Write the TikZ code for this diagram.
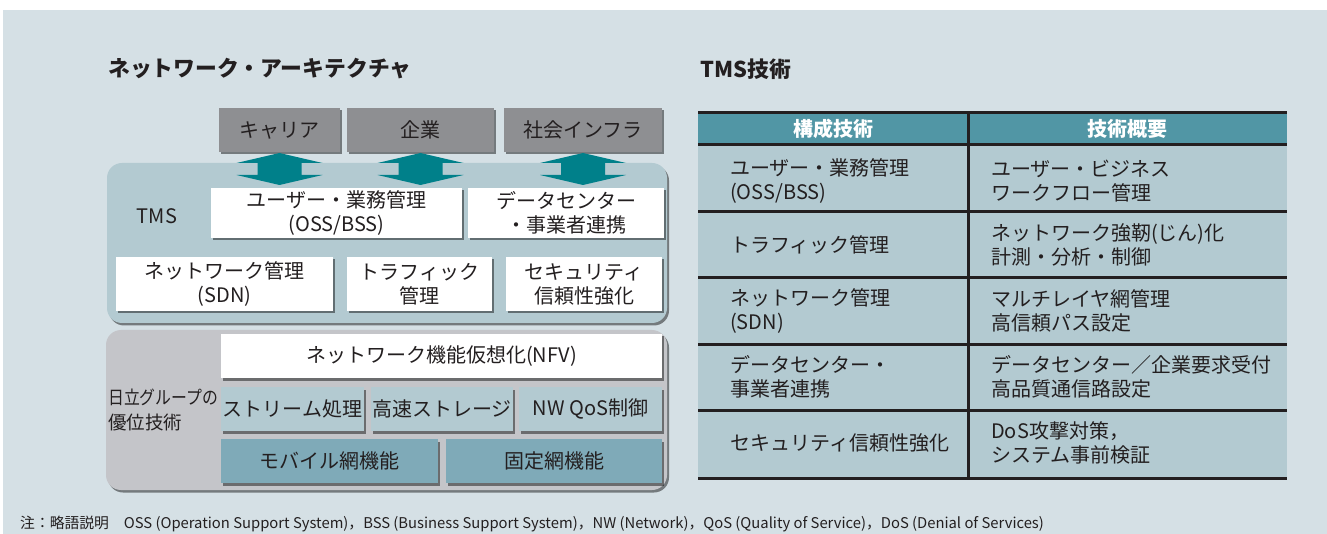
\documentclass[tikz,border=0pt]{standalone}
\usepackage{fontspec}
\setmainfont{Noto Sans CJK JP}
\usetikzlibrary{shadows}
\definecolor{bgc}{HTML}{D5E0E5}
\definecolor{topgray}{HTML}{8E8F92}
\definecolor{tmsc}{HTML}{B3CAD1}
\definecolor{arrowc}{HTML}{00808A}
\definecolor{lowc}{HTML}{C4C5C9}
\definecolor{mobc}{HTML}{7FAAB8}
\definecolor{headc}{HTML}{5196A5}
\definecolor{txtc}{HTML}{231F20}
\tikzset{
  shad/.style={drop shadow={shadow xshift=2pt,shadow yshift=-2.5pt,fill=black,opacity=0.45}},
  boxbase/.style={shad,inner sep=0pt,outer sep=0pt,align=center,text=txtc,
    font=\fontsize{20}{24}\selectfont},
  topbox/.style={boxbase,fill=topgray,minimum height=44pt},
  wbox/.style={boxbase,fill=white},
  sbox/.style={boxbase,fill=tmsc,minimum height=44pt},
  mbox/.style={boxbase,fill=mobc,minimum height=44pt},
  panel/.style={shad,rounded corners=15pt},
  celltext/.style={anchor=west,align=left,inner sep=0pt,text=txtc,font=\fontsize{20}{24.5}\selectfont},
  headtext/.style={inner sep=0pt,text=white,font=\bfseries\fontsize{20}{24}\selectfont},
  titletext/.style={anchor=west,inner sep=0pt,text=txtc,font=\bfseries\fontsize{21.8}{24}\selectfont},
  tline/.style={line width=3pt,draw=txtc},
  dbl/.pic={\fill[arrowc] (0,-16) -- (43,-6) -- (22,-6) -- (22,6) -- (43,6) -- (0,16)
     -- (-43,6) -- (-22,6) -- (-22,-6) -- (-43,-6) -- cycle;}
}
\begin{document}
\begin{tikzpicture}[x=1pt,y=-1pt]
\useasboundingbox (0,0) rectangle (1327,534);
\fill[white] (0,0) rectangle (1327,534);
\fill[bgc] (3,10) rectangle (1327,534);
% titles
\node[titletext] (t1) at (108,69) {ネットワーク・アーキテクチャ};
\node[titletext] (t2) at (700,69) {TMS技術};
% panels
\path[panel,fill=tmsc] (107,163) rectangle (667,323);
\path[panel,fill=lowc] (106,330) rectangle (667,490);
% top boxes
\node[topbox,minimum width=121pt] (car) at (279.5,130) {キャリア};
\node[topbox,minimum width=147pt] (ent) at (420.5,130) {企業};
\node[topbox,minimum width=158pt] (inf) at (583,130) {社会インフラ};
% TMS
\node[inner sep=0pt,text=txtc,font=\fontsize{20}{24}\selectfont] (tms) at (157,216) {TMS};
\node[wbox,minimum width=251pt,minimum height=50pt] (oss) at (336.5,213) {ユーザー・業務管理\\(OSS/BSS)};
\node[wbox,minimum width=196pt,minimum height=50pt] (dc) at (566,213) {データセンター\\・事業者連携};
\node[wbox,minimum width=217pt,minimum height=54pt] (sdn) at (224.5,284) {ネットワーク管理\\(SDN)};
\node[wbox,minimum width=145pt,minimum height=54pt] (trf) at (419.5,284) {トラフィック\\管理};
\node[wbox,minimum width=156pt,minimum height=54pt] (sec) at (584,284) {セキュリティ\\信頼性強化};
% arrows
\path (car.south) ++(0,17) pic {dbl};
\path (ent.south) ++(0,17) pic {dbl};
\path (inf.south) ++(0,17) pic {dbl};
% lower
\node[anchor=west,align=left,inner sep=0pt,text=txtc,font=\fontsize{18.5}{24.5}\selectfont] (hit) at (108,410) {\resizebox{110pt}{\height}{日立グループの}\\優位技術};
\node[wbox,minimum width=441pt,minimum height=44pt] (nfv) at (441.5,356) {ネットワーク機能仮想化(NFV)};
\node[sbox,minimum width=143pt] (str) at (292.5,409) {ストリーム処理};
\node[sbox,minimum width=142pt] (sto) at (442,409) {高速ストレージ};
\node[sbox,minimum width=143pt] (qos) at (590.5,409) {NW QoS制御};
\node[mbox,minimum width=217pt] (mob) at (329.5,461) {モバイル網機能};
\node[mbox,minimum width=216pt] (fix) at (554,461) {固定網機能};
% table
\fill[headc] (698,113) rectangle (1287,145);
\fill[tmsc] (698,145) rectangle (1287,478);
\draw[tline] (698,113) -- (1287,113);
\draw[tline] (698,145) -- (1287,145);
\draw[tline] (698,212) -- (1287,212);
\draw[tline] (698,278) -- (1287,278);
\draw[tline] (698,344) -- (1287,344);
\draw[tline] (698,410) -- (1287,410);
\draw[tline] (698,478) -- (1287,478);
\draw[tline] (968,111.5) -- (968,479.5);
\node[headtext] (h1) at (833,129) {構成技術};
\node[headtext] (h2) at (1127,129) {技術概要};
\node[celltext] (a1) at (730,181) {ユーザー・業務管理\\(OSS/BSS)};
\node[celltext] (b1) at (991,181) {ユーザー・ビジネス\\ワークフロー管理};
\node[celltext] (a2) at (730,245) {トラフィック管理};
\node[celltext] (b2) at (991,245) {ネットワーク強靭(じん)化\\計測・分析・制御};
\node[celltext] (a3) at (730,311) {ネットワーク管理\\(SDN)};
\node[celltext] (b3) at (991,311) {マルチレイヤ網管理\\高信頼パス設定};
\node[celltext] (a4) at (730,377) {データセンター・\\事業者連携};
\node[celltext] (b4) at (991,377) {データセンター／企業要求受付\\高品質通信路設定};
\node[celltext] (a5) at (730,443) {セキュリティ信頼性強化};
\node[celltext] (b5) at (991,443) {DoS攻撃対策，\\システム事前検証};
% footnote
\node[anchor=west,inner sep=0pt,text=txtc,font=\fontsize{14.8}{16}\selectfont] (fn) at (20,524) {注：略語説明　OSS (Operation Support System)，BSS (Business Support System)，NW (Network)，QoS (Quality of Service)，DoS (Denial of Services)};
\end{tikzpicture}
\end{document}
